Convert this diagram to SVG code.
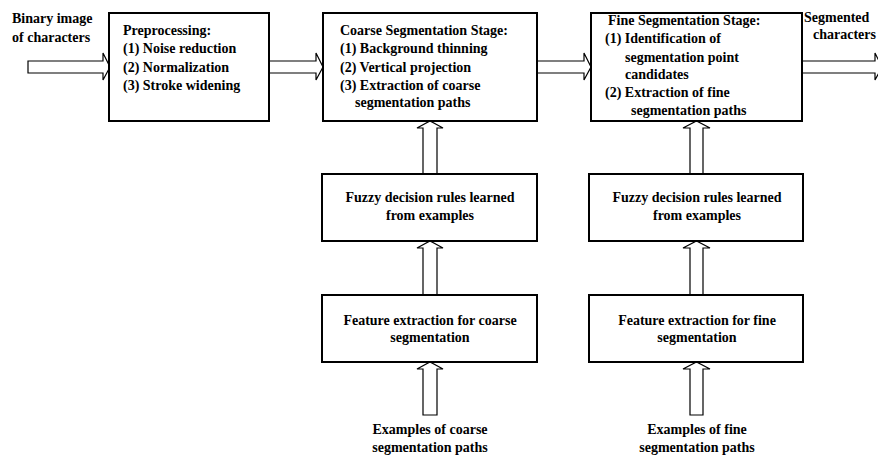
<svg xmlns="http://www.w3.org/2000/svg" width="878" height="457" viewBox="0 0 878 457">
<style>
.box{fill:#fff;stroke:#000;stroke-width:2}
.arr{fill:#fff;stroke:#000;stroke-width:1.2;stroke-linejoin:miter}
text{font-family:"Liberation Serif","Times New Roman",serif;font-weight:bold;font-size:14px;fill:#000}
.c{text-anchor:middle}
</style>
<rect width="878" height="457" fill="#fff"/>
<g id="connectors">
<polygon class="arr" points="28,61 103,61 103,53 110,67 103,80 103,73 28,73"/>
<polygon class="arr" points="269,61 316,61 316,53 323,67 316,80 316,73 269,73"/>
<polygon class="arr" points="537,61 584,61 584,53 591,67 584,80 584,73 537,73"/>
<polygon class="arr" points="802,61 875,61 875,53 882,67 875,80 875,73 802,73"/>
<polygon class="arr" points="423,174 423,128 417,128 430,121 443,128 437,128 437,174"/>
<polygon class="arr" points="423,295 423,248 417,248 430,241 443,248 437,248 437,295"/>
<polygon class="arr" points="423,415 423,369 417,369 430,362 443,369 437,369 437,415"/>
<polygon class="arr" points="690,174 690,128 683,128 696.5,121 710,128 703,128 703,174"/>
<polygon class="arr" points="690,295 690,248 683,248 696.5,241 710,248 703,248 703,295"/>
<polygon class="arr" points="690,415 690,369 683,369 696.5,362 710,369 703,369 703,415"/>
</g>
<g id="input">
<text x="12" y="23">Binary image</text>
<text x="12" y="42">of characters</text>
</g>
<g id="preprocessing">
<rect class="box" x="109" y="13" width="160" height="108"/>
<text x="123" y="35">Preprocessing:</text>
<text x="123" y="53">(1) Noise reduction</text>
<text x="123" y="72">(2) Normalization</text>
<text x="123" y="90">(3) Stroke widening</text>
</g>
<g id="coarse">
<rect class="box" x="323" y="13" width="214" height="108"/>
<text x="340" y="35">Coarse Segmentation Stage:</text>
<text x="340" y="53">(1) Background thinning</text>
<text x="340" y="72">(2) Vertical projection</text>
<text x="340" y="90">(3) Extraction of coarse</text>
<text x="355" y="107">segmentation paths</text>
</g>
<g id="fine">
<rect class="box" x="591" y="13" width="211" height="108"/>
<text x="608" y="25">Fine Segmentation Stage:</text>
<text x="605" y="43">(1) Identification of</text>
<text x="625" y="62">segmentation point</text>
<text x="625" y="79">candidates</text>
<text x="605" y="97">(2) Extraction of fine</text>
<text x="631" y="115">segmentation paths</text>
</g>
<g id="output">
<text x="804" y="22">Segmented</text>
<text x="813" y="39">characters</text>
</g>
<g id="fuzzy-coarse">
<rect class="box" x="322" y="174" width="215" height="67"/>
<text class="c" x="430" y="202">Fuzzy decision rules learned</text>
<text class="c" x="430" y="220">from examples</text>
</g>
<g id="fuzzy-fine">
<rect class="box" x="589" y="174" width="214" height="67"/>
<text class="c" x="697" y="202">Fuzzy decision rules learned</text>
<text class="c" x="697" y="220">from examples</text>
</g>
<g id="feature-coarse">
<rect class="box" x="322" y="295" width="215" height="67"/>
<text class="c" x="430" y="325">Feature extraction for coarse</text>
<text class="c" x="430" y="342">segmentation</text>
</g>
<g id="feature-fine">
<rect class="box" x="589" y="295" width="214" height="67"/>
<text class="c" x="697" y="325">Feature extraction for fine</text>
<text class="c" x="697" y="342">segmentation</text>
</g>
<g id="examples-coarse">
<text class="c" x="430" y="434">Examples of coarse</text>
<text class="c" x="430" y="452">segmentation paths</text>
</g>
<g id="examples-fine">
<text class="c" x="697" y="434">Examples of fine</text>
<text class="c" x="697" y="452">segmentation paths</text>
</g>
</svg>
